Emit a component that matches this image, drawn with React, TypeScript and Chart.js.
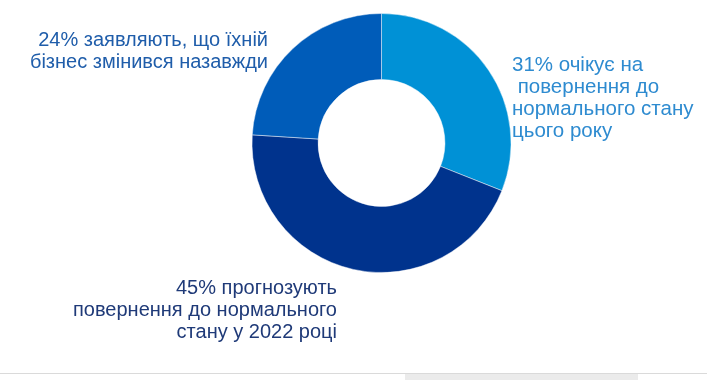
import React, { useEffect, useRef } from "react";
import { Chart, registerables } from "chart.js";

Chart.register(...registerables);

const categories = [
  "31% очікує на\n повернення до\nнормального стану\nцього року",
  "45% прогнозують\nповернення до нормального\nстану у 2022 році",
  "24% заявляють, що їхній\nбізнес змінився назавжди",
];
const values = [31, 45, 24];
const sliceColors = ["#0091D6", "#00338D", "#005CB9"];
const labelColors = ["#2E8BD0", "#1F3A78", "#1F5DAA"];

const FONT = "'Liberation Sans', Arial, sans-serif";

export default function App() {
  const canvasRef = useRef<HTMLCanvasElement | null>(null);

  useEffect(() => {
    document.body.style.margin = "0";
    const ctx = canvasRef.current;
    if (!ctx) return;
    const chart = new Chart(ctx, {
      type: "doughnut",
      data: {
        labels: categories,
        datasets: [
          {
            data: values,
            backgroundColor: sliceColors,
            borderColor: "rgba(255,255,255,0.45)",
            borderWidth: 1,
          },
        ],
      },
      options: {
        responsive: false,
        animation: false,
        cutout: "49%",
        layout: { padding: { top: 13, bottom: 107, left: 56, right: 0 } },
        plugins: {
          legend: { display: false },
          tooltip: { enabled: false },
        },
      },
    });
    return () => chart.destroy();
  }, []);

  const labelBase: React.CSSProperties = {
    position: "absolute",
    fontFamily: FONT,
    fontSize: "20px",
    lineHeight: "21.7px",
    whiteSpace: "pre",
  };

  return (
    <div style={{ position: "fixed", left: 0, top: 0, width: 707, height: 380, background: "#fff", overflow: "hidden" }}>
      <canvas ref={canvasRef} width={707} height={380} style={{ position: "absolute", left: 0, top: 0 }} />
      <div style={{ ...labelBase, left: 512, top: 53.2, textAlign: "left", color: labelColors[0], fontSize: "20.5px", lineHeight: "22px" }}>
        {categories[0]}
      </div>
      <div style={{ ...labelBase, right: 707 - 337, top: 276.4, textAlign: "right", color: labelColors[1], lineHeight: "22px" }}>
        {categories[1]}
      </div>
      <div style={{ ...labelBase, right: 707 - 268, top: 28.9, textAlign: "right", color: labelColors[2] }}>
        {categories[2]}
      </div>
      <div style={{ position: "absolute", left: 0, top: 372.5, width: 707, height: 1.5, background: "#dadada" }} />
      <div style={{ position: "absolute", left: 405, top: 374, width: 233, height: 6, background: "#ebebeb" }} />
    </div>
  );
}
